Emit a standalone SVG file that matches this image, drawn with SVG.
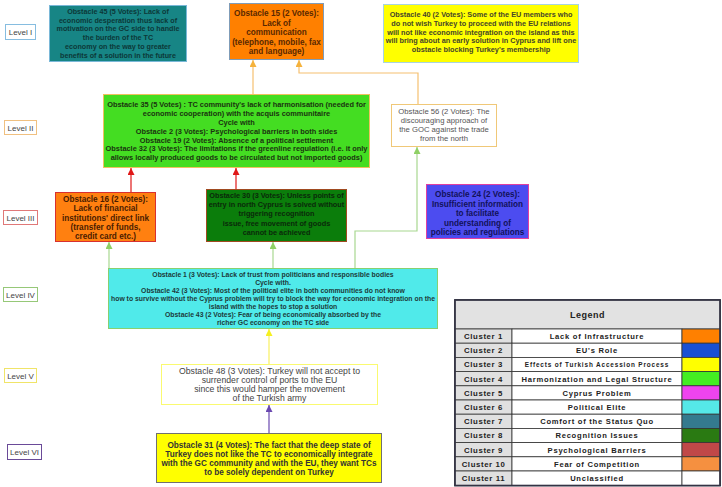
<svg xmlns="http://www.w3.org/2000/svg" width="722" height="487" viewBox="0 0 722 487">
<style>
text{font-family:"Liberation Sans",Arial,sans-serif;text-anchor:middle}
.lvl rect{fill:#fff;stroke-width:1}
.lvl text{font-size:8px;fill:#444}
.n{stroke-width:1}
.b{font-weight:bold}
.c{fill:none;stroke-width:1.2}
.lg{font-weight:bold;font-size:7.6px;letter-spacing:0.75px;fill:#222}
.lgc{font-weight:bold;font-size:7.8px;letter-spacing:0.6px;fill:#222}
.cell{stroke:#333;stroke-width:0.8}
</style>
<defs>
<marker id="aO" viewBox="0 0 8 8" refX="8" refY="4" markerWidth="7" markerHeight="7" markerUnits="userSpaceOnUse" orient="auto"><path d="M0,0L8,4L0,8z" fill="#f5b23c"/></marker>
<marker id="aR" viewBox="0 0 8 8" refX="8" refY="4" markerWidth="7" markerHeight="7" markerUnits="userSpaceOnUse" orient="auto"><path d="M0,0L8,4L0,8z" fill="#e01818"/></marker>
<marker id="aG" viewBox="0 0 8 8" refX="8" refY="4" markerWidth="7" markerHeight="7" markerUnits="userSpaceOnUse" orient="auto"><path d="M0,0L8,4L0,8z" fill="#8fd065"/></marker>
<marker id="aY" viewBox="0 0 8 8" refX="8" refY="4" markerWidth="7" markerHeight="7" markerUnits="userSpaceOnUse" orient="auto"><path d="M0,0L8,4L0,8z" fill="#f5f020"/></marker>
<marker id="aP" viewBox="0 0 8 8" refX="8" refY="4" markerWidth="7" markerHeight="7" markerUnits="userSpaceOnUse" orient="auto"><path d="M0,0L8,4L0,8z" fill="#6a48b0"/></marker>
</defs>
<rect width="722" height="487" fill="#fff"/>

<g id="levels" class="lvl">
<g id="level-1"><rect x="5.5" y="24.5" width="30" height="15" stroke="#86bde0"/><text x="20.5" y="34.8">Level I</text></g>
<g id="level-2"><rect x="4.5" y="120.5" width="32" height="14" stroke="#f0c080"/><text x="20.5" y="130.5">Level II</text></g>
<g id="level-3"><rect x="3.5" y="210.5" width="34" height="14" stroke="#e07878"/><text x="20.5" y="220.5">Level III</text></g>
<g id="level-4"><rect x="3.5" y="287.5" width="34" height="14" stroke="#96c878"/><text x="20.5" y="297.5">Level IV</text></g>
<g id="level-5"><rect x="4.5" y="368.5" width="32" height="14" stroke="#f0e468"/><text x="20.5" y="378.5">Level V</text></g>
<g id="level-6"><rect x="7.5" y="444.5" width="34" height="15" stroke="#6a4a98"/><text x="24.5" y="455">Level VI</text></g>
</g>

<g id="connectors">
<path class="c" d="M253,94V60" stroke="#f5c070" marker-end="url(#aO)"/>
<path class="c" d="M418,104V73H299V60" stroke="#f5c070" marker-end="url(#aO)"/>
<path class="c" d="M131,192V168" stroke="#e01818" marker-end="url(#aR)"/>
<path class="c" d="M236,189V168" stroke="#e01818" marker-end="url(#aR)"/>
<path class="c" d="M109,268V242" stroke="#a8d890" marker-end="url(#aG)"/>
<path class="c" d="M273,268V242" stroke="#a8d890" marker-end="url(#aG)"/>
<path class="c" d="M355,268V231H417V147" stroke="#a8d890" marker-end="url(#aG)"/>
<path class="c" d="M269,364V329" stroke="#f8f060" marker-end="url(#aY)"/>
<path class="c" d="M269,433V405" stroke="#6a48b0" marker-end="url(#aP)"/>
</g>

<g id="obstacle-45">
<rect class="n" x="49.5" y="5.5" width="137" height="56" fill="#178585" stroke="#7ab8d8"/>
<text class="b" font-size="7.2" fill="#0c3838" x="118" y="14"><tspan x="118">Obstacle 45 (5 Votes): Lack of</tspan><tspan x="118" dy="8.7">economic desperation thus lack of</tspan><tspan x="118" dy="8.7">motivation on the GC side to handle</tspan><tspan x="118" dy="8.7">the burden of the TC</tspan><tspan x="118" dy="8.7">economy on the way to greater</tspan><tspan x="118" dy="8.7">benefits of a solution in the future</tspan></text>
</g>

<g id="obstacle-15">
<rect class="n" x="229.5" y="3.5" width="94" height="56" fill="#ff8000" stroke="#7f9cb8"/>
<text class="b" font-size="8.2" fill="#5a2800" x="276.5" y="16"><tspan x="276.5">Obstacle 15 (2 Votes):</tspan><tspan x="276.5" dy="9.5">Lack of</tspan><tspan x="276.5" dy="9.5">communication</tspan><tspan x="276.5" dy="9.5">(telephone, mobile, fax</tspan><tspan x="276.5" dy="9.5">and language)</tspan></text>
</g>

<g id="obstacle-40">
<rect class="n" x="383.5" y="4.5" width="195" height="58" fill="#ffff00" stroke="#a8d4e0"/>
<text class="b" font-size="7.3" fill="#45452a" x="481" y="17.3"><tspan x="481">Obstacle 40 (2 Votes): Some of the EU members who</tspan><tspan x="481" dy="8.7">do not wish Turkey to proceed with the EU relations</tspan><tspan x="481" dy="8.7">will not like economic integration on the island as this</tspan><tspan x="481" dy="8.7">will bring about an early solution in Cyprus and lift one</tspan><tspan x="481" dy="8.7">obstacle blocking Turkey's membership</tspan></text>
</g>

<g id="obstacle-35">
<rect class="n" x="103.5" y="94.5" width="266" height="73" fill="#44dd22" stroke="#f0c060"/>
<text class="b" font-size="7.4" fill="#1a3410" x="236.5" y="107.4"><tspan x="236.5">Obstacle 35 (5 Votes) : TC community's lack of harmonisation (needed for</tspan><tspan x="236.5" dy="8.8">economic cooperation) with the acquis communitaire</tspan><tspan x="236.5" dy="8.8">Cycle with</tspan><tspan x="236.5" dy="8.8">Obstacle 2 (3 Votes): Psychological barriers in both sides</tspan><tspan x="236.5" dy="8.8">Obstacle 19 (2 Votes): Absence of a political settlement</tspan><tspan x="236.5" dy="8.8">Obstacle 32 (3 Votes): The limitations if the greenline regulation (i.e. it only</tspan><tspan x="236.5" dy="8.8">allows locally produced goods to be circulated but not imported goods)</tspan></text>
</g>

<g id="obstacle-56">
<rect class="n" x="391.5" y="104.5" width="105" height="42" fill="#fff" stroke="#f0c878"/>
<text font-size="7.7" fill="#555" x="444" y="113.5"><tspan x="444">Obstacle 56 (2 Votes): The</tspan><tspan x="444" dy="9">discouraging approach of</tspan><tspan x="444" dy="9">the GOC against the trade</tspan><tspan x="444" dy="9">from the north</tspan></text>
</g>

<g id="obstacle-24">
<rect class="n" x="426.5" y="184.5" width="102" height="54" fill="#4c4cf0" stroke="#e040a0"/>
<text class="b" font-size="8.2" fill="#12125a" x="477.5" y="197.3"><tspan x="477.5">Obstacle 24 (2 Votes):</tspan><tspan x="477.5" dy="9.5">Insufficient information</tspan><tspan x="477.5" dy="9.5">to facilitate</tspan><tspan x="477.5" dy="9.5">understanding of</tspan><tspan x="477.5" dy="9.5">policies and regulations</tspan></text>
</g>

<g id="obstacle-16">
<rect class="n" x="55.5" y="192.5" width="100" height="49" fill="#ff8010" stroke="#d83030"/>
<text class="b" font-size="8.2" fill="#4a1c00" x="105.5" y="202"><tspan x="105.5">Obstacle 16 (2 Votes):</tspan><tspan x="105.5" dy="9.3">Lack of financial</tspan><tspan x="105.5" dy="9.3">institutions' direct link</tspan><tspan x="105.5" dy="9.3">(transfer of funds,</tspan><tspan x="105.5" dy="9.3">credit card etc.)</tspan></text>
</g>

<g id="obstacle-30">
<rect class="n" x="206.5" y="189.5" width="140" height="52" fill="#0b7d0b" stroke="#a04a20"/>
<text class="b" font-size="7.3" fill="#0a2a0a" x="276.5" y="198.2"><tspan x="276.5">Obstacle 30 (3 Votes): Unless points of</tspan><tspan x="276.5" dy="9.1">entry in north Cyprus is solved without</tspan><tspan x="276.5" dy="9.1">triggering recognition</tspan><tspan x="276.5" dy="9.1">issue, free movement of goods</tspan><tspan x="276.5" dy="9.1">cannot be achieved</tspan></text>
</g>

<g id="obstacle-1">
<rect class="n" x="108.5" y="268.5" width="329" height="60" fill="#50eaea" stroke="#88d070"/>
<text class="b" font-size="6.85" fill="#1c3a3a" x="273" y="277.4"><tspan x="273">Obstacle 1 (3 Votes): Lack of trust from politicians and responsible bodies</tspan><tspan x="273" dy="7.9">Cycle with.</tspan><tspan x="273" dy="7.9">Obstacle 42 (3 Votes): Most of the political elite in both communities do not know</tspan><tspan x="273" dy="7.9">how to survive without the Cyprus problem will try to block the way for economic integration on the</tspan><tspan x="273" dy="7.9">island with the hopes to stop a solution</tspan><tspan x="273" dy="7.9">Obstacle 43 (2 Votes): Fear of being economically absorbed by the</tspan><tspan x="273" dy="7.9">richer GC economy on the TC side</tspan></text>
</g>

<g id="obstacle-48">
<rect class="n" x="161.5" y="364.5" width="216" height="40" fill="#fff" stroke="#fafa70"/>
<text font-size="8.7" fill="#444" x="269.5" y="374"><tspan x="269.5">Obstacle 48 (3 Votes): Turkey will not accept to</tspan><tspan x="269.5" dy="9">surrender control of ports to the EU</tspan><tspan x="269.5" dy="9">since this would hamper the movement</tspan><tspan x="269.5" dy="9">of the Turkish army</tspan></text>
</g>

<g id="obstacle-31">
<rect class="n" x="156.5" y="433.5" width="225" height="49" fill="#ffff00" stroke="#707070"/>
<text class="b" font-size="8.2" fill="#333" x="269" y="448"><tspan x="269">Obstacle 31 (4 Votes): The fact that the deep state of</tspan><tspan x="269" dy="9">Turkey does not like the TC to economically integrate</tspan><tspan x="269" dy="9">with the GC community and with the EU, they want TCs</tspan><tspan x="269" dy="9">to be solely dependent on Turkey</tspan></text>
</g>

<g id="legend">
<rect x="455" y="300" width="265" height="185.5" fill="#fff" stroke="#334" stroke-width="1.6"/>
<rect class="cell" x="455" y="300" width="265" height="29" fill="#e2e2e2"/>
<text class="b" font-size="9" fill="#222" x="587.5" y="317.5" letter-spacing="0.5">Legend</text>
<g id="legend-rows">
<rect class="cell" x="455" y="329" width="57" height="14.2" fill="#e0e0e0"/><rect class="cell" x="512" y="329" width="170" height="14.2" fill="#fff"/><rect class="cell" x="682" y="329" width="38" height="14.2" fill="#ff8000"/>
<text class="lgc" x="483.5" y="339">Cluster 1</text><text class="lg" x="597" y="339">Lack of Infrastructure</text>
<rect class="cell" x="455" y="343.2" width="57" height="14.2" fill="#e0e0e0"/><rect class="cell" x="512" y="343.2" width="170" height="14.2" fill="#fff"/><rect class="cell" x="682" y="343.2" width="38" height="14.2" fill="#1a50d2"/>
<text class="lgc" x="483.5" y="353.2">Cluster 2</text><text class="lg" x="597" y="353.2">EU's Role</text>
<rect class="cell" x="455" y="357.4" width="57" height="14.2" fill="#e0e0e0"/><rect class="cell" x="512" y="357.4" width="170" height="14.2" fill="#fff"/><rect class="cell" x="682" y="357.4" width="38" height="14.2" fill="#ffff00"/>
<text class="lgc" x="483.5" y="367.4">Cluster 3</text><text class="b" font-size="6.4" letter-spacing="0.85" fill="#222" x="597" y="367">Effects of Turkish Accession Process</text>
<rect class="cell" x="455" y="371.6" width="57" height="14.2" fill="#e0e0e0"/><rect class="cell" x="512" y="371.6" width="170" height="14.2" fill="#fff"/><rect class="cell" x="682" y="371.6" width="38" height="14.2" fill="#44ee22"/>
<text class="lgc" x="483.5" y="381.6">Cluster 4</text><text class="lg" x="597" y="381.6">Harmonization and Legal Structure</text>
<rect class="cell" x="455" y="385.8" width="57" height="14.2" fill="#e0e0e0"/><rect class="cell" x="512" y="385.8" width="170" height="14.2" fill="#fff"/><rect class="cell" x="682" y="385.8" width="38" height="14.2" fill="#ee44ee"/>
<text class="lgc" x="483.5" y="395.8">Cluster 5</text><text class="lg" x="597" y="395.8">Cyprus Problem</text>
<rect class="cell" x="455" y="400" width="57" height="14.2" fill="#e0e0e0"/><rect class="cell" x="512" y="400" width="170" height="14.2" fill="#fff"/><rect class="cell" x="682" y="400" width="38" height="14.2" fill="#55e8e8"/>
<text class="lgc" x="483.5" y="410">Cluster 6</text><text class="lg" x="597" y="410">Political Elite</text>
<rect class="cell" x="455" y="414.2" width="57" height="14.2" fill="#e0e0e0"/><rect class="cell" x="512" y="414.2" width="170" height="14.2" fill="#fff"/><rect class="cell" x="682" y="414.2" width="38" height="14.2" fill="#347a8e"/>
<text class="lgc" x="483.5" y="424.2">Cluster 7</text><text class="lg" x="597" y="424.2">Comfort of the Status Quo</text>
<rect class="cell" x="455" y="428.4" width="57" height="14.2" fill="#e0e0e0"/><rect class="cell" x="512" y="428.4" width="170" height="14.2" fill="#fff"/><rect class="cell" x="682" y="428.4" width="38" height="14.2" fill="#2a7a12"/>
<text class="lgc" x="483.5" y="438.4">Cluster 8</text><text class="lg" x="597" y="438.4">Recognition Issues</text>
<rect class="cell" x="455" y="442.6" width="57" height="14.2" fill="#e0e0e0"/><rect class="cell" x="512" y="442.6" width="170" height="14.2" fill="#fff"/><rect class="cell" x="682" y="442.6" width="38" height="14.2" fill="#c04848"/>
<text class="lgc" x="483.5" y="452.6">Cluster 9</text><text class="lg" x="597" y="452.6">Psychological Barriers</text>
<rect class="cell" x="455" y="456.8" width="57" height="14.2" fill="#e0e0e0"/><rect class="cell" x="512" y="456.8" width="170" height="14.2" fill="#fff"/><rect class="cell" x="682" y="456.8" width="38" height="14.2" fill="#f59040"/>
<text class="lgc" x="483.5" y="466.8">Cluster 10</text><text class="lg" x="597" y="466.8">Fear of Competition</text>
<rect class="cell" x="455" y="471" width="57" height="14.5" fill="#e0e0e0"/><rect class="cell" x="512" y="471" width="170" height="14.5" fill="#fff"/><rect class="cell" x="682" y="471" width="38" height="14.5" fill="#fff"/>
<text class="lgc" x="483.5" y="481">Cluster 11</text><text class="lg" x="597" y="481">Unclassified</text>
</g>
<rect x="455" y="300" width="265" height="185.5" fill="none" stroke="#334" stroke-width="1.6"/>
</g>
</svg>
